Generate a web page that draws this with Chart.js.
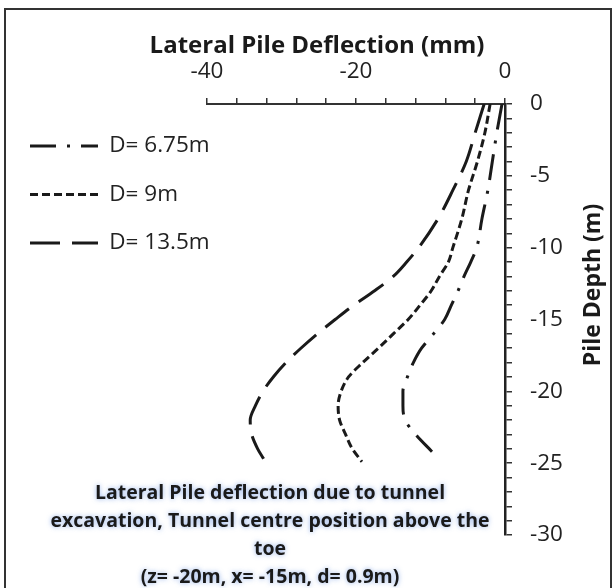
<!DOCTYPE html>
<html>
<head>
<meta charset="utf-8">
<script src="https://cdn.jsdelivr.net/npm/chart.js@4.4.1/dist/chart.umd.min.js"></script>
<style>
  html, body { margin: 0; padding: 0; background: #fff; }
  #wrap { position: relative; width: 614px; height: 588px; overflow: hidden; background: #fff; }
  #frame { position: absolute; left: 4px; top: 8px; width: 608px; height: 600px; border: 2px solid #333; box-sizing: border-box; }
  canvas { position: absolute; left: 0; top: 0; }
</style>
</head>
<body>
<div id="wrap">
  <div id="frame"></div>
  <canvas id="chart" width="614" height="588"></canvas>
</div>
<script>
// ---------- data ----------
const seriesNames = ['D= 6.75m', 'D= 9m', 'D= 13.5m'];

// pile depth (m) and lateral deflection (mm) per series
const depth675 = [0, -2, -4, -6, -8, -10, -11, -12, -13, -14, -15, -16, -17, -18, -19, -20, -21, -22, -23, -24.2];
const defl675 = [-0.4, -1.1, -1.7, -2.3, -3.1, -3.8, -4.6, -5.5, -6.3, -7.2, -8.1, -9.6, -11.2, -12.3, -13.1, -13.7, -13.7, -13.4, -12.0, -9.8];

const depth9 = [0, -2, -4, -6, -8, -10, -11, -12, -13, -14, -15, -16, -17, -18, -19, -20, -21, -22, -23, -24, -24.9];
const defl9 = [-2.0, -2.7, -3.7, -4.9, -5.8, -7.0, -7.6, -8.8, -9.9, -11.4, -13.0, -15.0, -17.0, -19.1, -21.0, -22.0, -22.4, -22.2, -21.4, -20.5, -19.2];

const depth135 = [0, -2, -4, -6, -8, -10, -11, -12, -13, -14, -15, -16, -17, -18, -19, -20, -21, -22, -23, -24, -24.7];
const defl135 = [-2.8, -4.0, -5.2, -7.0, -9.0, -11.6, -13.2, -15.0, -17.5, -20.3, -22.8, -25.2, -27.4, -29.4, -31.1, -32.5, -33.5, -34.2, -34.0, -33.2, -32.4];

const xTitle = 'Lateral Pile Deflection (mm)';
const yTitle = 'Pile Depth (m)';
const noteLines = [
  'Lateral Pile deflection due to tunnel',
  'excavation, Tunnel centre position above the',
  'toe',
  '(z= -20m, x= -15m, d= 0.9m)'
];

// ---------- helpers ----------
function toPoints(depths, defls) {
  return depths.map((d, i) => ({ x: defls[i], y: d }));
}

const ink = '#1a1a1a';
const font = '"Open Sans", "Noto Sans", sans-serif';

function lineSet(label, pts, dash) {
  return {
    label: label,
    data: pts,
    borderColor: ink,
    backgroundColor: ink,
    borderWidth: 3,
    borderDash: dash,
    borderCapStyle: 'butt',
    pointRadius: 0,
    pointHoverRadius: 0,
    cubicInterpolationMode: 'monotone',
    fill: false
  };
}

// titles and the note are placed where the figure has them
const textPlugin = {
  id: 'texts',
  afterDraw(chart) {
    const ctx = chart.ctx;
    ctx.save();
    ctx.fillStyle = ink;
    ctx.textAlign = 'center';
    ctx.textBaseline = 'middle';

    ctx.font = 'bold 24px ' + font;
    ctx.fillText(xTitle, 317, 46);

    ctx.save();
    ctx.translate(593, 285);
    ctx.rotate(-Math.PI / 2);
    ctx.font = 'bold 23px ' + font;
    ctx.fillText(yTitle, 0, 0);
    ctx.restore();

    ctx.font = 'bold 19.5px ' + font;
    ctx.shadowColor = 'rgba(110, 150, 225, 0.75)';
    ctx.shadowBlur = 5;
    noteLines.forEach((t, i) => ctx.fillText(t, 270, 493 + i * 28));
    ctx.restore();
  }
};

// legend labels run a little past the plot's left edge, as in the figure,
// so widen the legend's clip box after layout
const legendRoom = {
  id: 'legendRoom',
  afterLayout(chart) {
    chart.legend.right += 30;
    chart.legend.width += 30;
  }
};

new Chart(document.getElementById('chart'), {
  type: 'line',
  data: {
    datasets: [
      lineSet(seriesNames[0], toPoints(depth675, defl675), [26, 11, 3, 11]),
      lineSet(seriesNames[1], toPoints(depth9, defl9), [8, 4]),
      lineSet(seriesNames[2], toPoints(depth135, defl135), [30, 12])
    ]
  },
  options: {
    responsive: false,
    animation: false,
    indexAxis: 'y',
    layout: { padding: { left: 4, top: 0, right: 0, bottom: 53 } },
    plugins: {
      tooltip: { enabled: false },
      legend: {
        position: 'left',
        align: 'start',
        fullSize: false,
        maxWidth: 203,
        title: { display: true, text: '', padding: 0, font: { size: 4 } },
        labels: {
          usePointStyle: true,
          pointStyle: 'line',
          pointStyleWidth: 68,
          padding: 26,
          color: '#222',
          font: { family: font, size: 22.5 },
          generateLabels: (chart) => {
            const items = Chart.defaults.plugins.legend.labels.generateLabels(chart);
            items.forEach((it) => {
              const ds = chart.data.datasets[it.datasetIndex];
              it.lineDash = ds.borderDash;
              it.lineWidth = ds.borderWidth;
              it.lineCap = 'butt';
            });
            return items;
          }
        }
      }
    },
    scales: {
      x: {
        type: 'linear',
        position: 'top',
        min: -40,
        max: 0,
        afterFit: (s) => { s.height = 104; },
        border: { display: true, color: '#333', width: 2 },
        grid: { drawOnChartArea: false, drawTicks: true, tickLength: 6, color: '#333', lineWidth: 1.5 },
        ticks: {
          stepSize: 4,
          autoSkip: false,
          maxRotation: 0,
          padding: 13,
          color: '#222',
          font: { family: font, size: 22.5 },
          callback: (v) => (v % 20 === 0 ? v : '')
        }
      },
      y: {
        type: 'linear',
        position: 'right',
        min: -30,
        max: 0,
        afterFit: (s) => { s.width = 109; },
        border: { display: true, color: '#222', width: 2.5 },
        grid: { drawOnChartArea: false, drawTicks: true, tickLength: 7, color: '#333', lineWidth: 1.5 },
        ticks: {
          stepSize: 1,
          autoSkip: false,
          padding: 18,
          color: '#222',
          font: { family: font, size: 22.5 },
          callback: (v) => (v % 5 === 0 ? v : '')
        }
      }
    }
  },
  plugins: [textPlugin, legendRoom]
});
</script>
</body>
</html>
